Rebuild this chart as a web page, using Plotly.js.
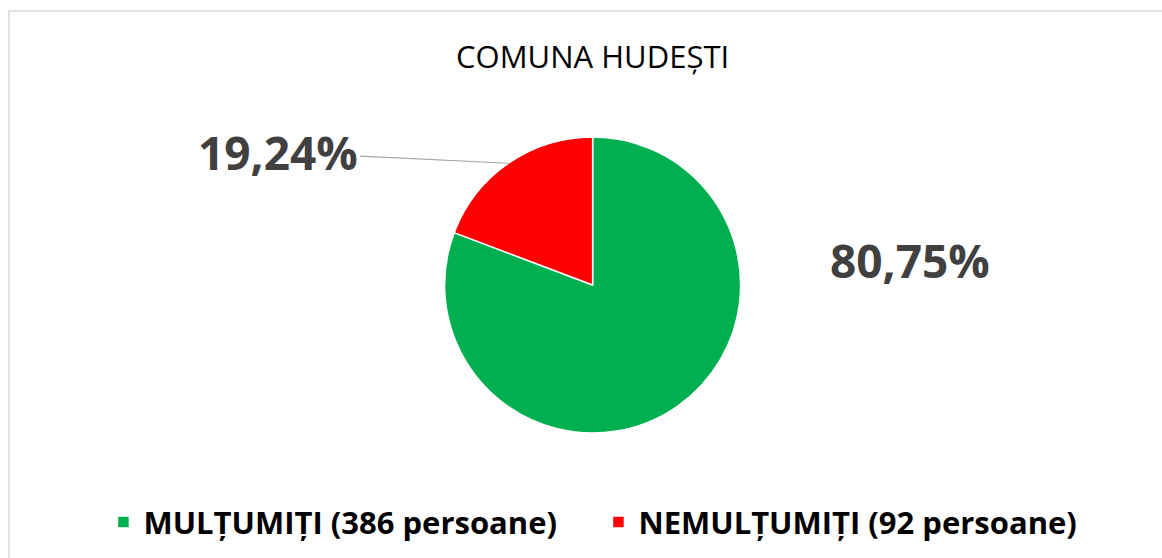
<!DOCTYPE html>
<html>
<head>
<meta charset="utf-8">
<script src="https://cdn.plot.ly/plotly-3.0.1.min.js"></script>
<style>
  html, body { margin: 0; padding: 0; background: #ffffff; }
  #grafic { width: 1162px; height: 558px; }
</style>
</head>
<body>
<div id="grafic"></div>
<script>

// date
const categorii = ["MULȚUMIȚI (386 persoane)", "NEMULȚUMIȚI (92 persoane)"];
const persoane = [386, 92];
const procente = ["80,75%", "19,24%"];
const culori = ["#00B050", "#FF0000"];

const W = 1162;
const H = 558;

// domeniul placintei
const domX = [0.30, 0.72];
const domY = [0.224, 0.7545];

const total = persoane.reduce((s, v) => s + v, 0);

// centru si raza in pixeli
const cx = (domX[0] + domX[1]) / 2 * W;
const cy = (1 - (domY[0] + domY[1]) / 2) * H;
const raza = Math.min((domX[1] - domX[0]) * W, (domY[1] - domY[0]) * H) / 2;

// mijlocul feliei rosii (unghi de la ora 12, sens orar)
let unghi = (persoane[0] + persoane[1] / 2) / total * 2 * Math.PI;
let vx = cx + raza * Math.sin(unghi);
let vy = cy - raza * Math.cos(unghi);

const fontEticheta = {
    family: "Open Sans, sans-serif",
    size: 46,
    color: "#404040",
    weight: 700
};

let date = [{
    type: "pie",
    labels: categorii,
    values: persoane,
    sort: false,
    direction: "clockwise",
    rotation: 0,
    textinfo: "none",
    hoverinfo: "skip",
    marker: {
        colors: culori,
        line: { color: "#ffffff", width: 1.5 }
    },
    domain: { x: domX, y: domY }
}];

let layout = {
    width: W,
    height: H,
    margin: { l: 0, r: 0, t: 0, b: 0 },
    paper_bgcolor: "#ffffff",
    title: {
        text: "COMUNA HUDEȘTI",
        x: 0.51,
        xanchor: "center",
        y: 0.898,
        yanchor: "middle",
        font: { family: "Open Sans, sans-serif", size: 31, color: "#000000" }
    },
    showlegend: true,
    legend: {
        orientation: "h",
        x: 0.515,
        xanchor: "center",
        y: 0.064,
        yanchor: "middle",
        font: { family: "Open Sans, sans-serif", size: 31, color: "#000000", weight: 700 },
        entrywidth: 450,
        entrywidthmode: "pixels",
        itemclick: false,
        tracegroupgap: 0
    },
    shapes: [{
        type: "rect",
        xref: "paper",
        yref: "paper",
        x0: 9 / W,
        x1: 1.02,
        y0: -0.02,
        y1: 1 - 11 / H,
        line: { color: "#d9d9d9", width: 1.5 }
    }],
    annotations: [
        {
            xref: "paper",
            yref: "paper",
            x: 910 / W,
            y: 1 - 260 / H,
            xanchor: "center",
            yanchor: "middle",
            text: procente[0],
            showarrow: false,
            font: fontEticheta
        },
        {
            xref: "paper",
            yref: "paper",
            x: vx / W,
            y: 1 - vy / H,
            ax: -230,
            ay: -11,
            text: procente[1],
            showarrow: true,
            arrowhead: 0,
            arrowwidth: 1.2,
            arrowcolor: "#a6a6a6",
            font: fontEticheta
        }
    ]
};

Plotly.newPlot("grafic", date, layout, { displayModeBar: false, staticPlot: true });

</script>
</body>
</html>
